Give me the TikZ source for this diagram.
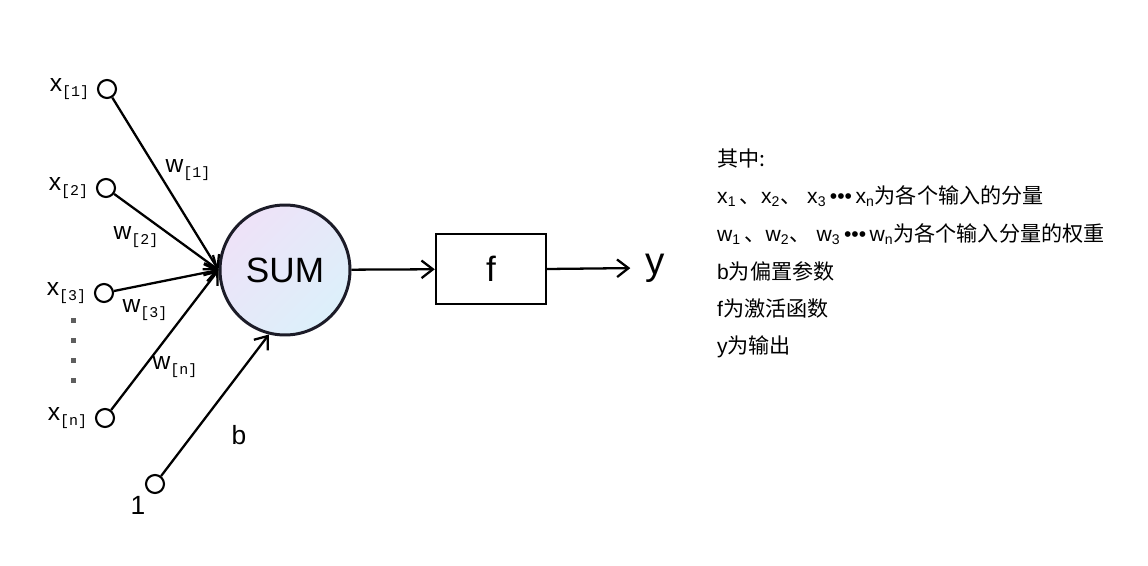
\documentclass[tikz,border=0pt]{standalone}
\usepackage{fontspec}
\setmainfont{Liberation Sans}
\newfontfamily\cjk{Noto Sans CJK SC}
\newfontfamily\submono{Liberation Mono}
\usetikzlibrary{arrows.meta,positioning}
\definecolor{NeuronInk}{HTML}{1C1C28}
\definecolor{NeuronLilac}{HTML}{EEE2F8}
\definecolor{NeuronSky}{HTML}{DCF0FA}
\definecolor{DotGrey}{HTML}{5E5E5E}
\newcommand{\idx}[2]{{\fontsize{14}{16}\selectfont #1}\raisebox{-3pt}{\fontsize{8.5}{9}\submono[#2]}}

\begin{document}
\begin{tikzpicture}[x=0.02cm, y=0.02cm, font=\fontsize{12}{14}\selectfont,
  port/.style={circle, draw, line width=1.2pt, minimum size=0.36cm, inner sep=0pt},
  wire/.style={line width=1.3pt, -{Straight Barb[length=6.5pt,width=10pt]}},
  big/.style={font=\fontsize{20}{24}\selectfont}]
  \useasboundingbox (0,0) rectangle (1148,565);
  % input ports
  \node[port] (x1) at (107,476) {};
  \node[port] (x2) at (106,377) {};
  \node[port] (x3) at (104,272) {};
  \node[port] (xn) at (105,147) {};
  \node[port] (one) at (155,81) {};
  \node[left=1pt of x1] (lx1) {\idx{x}{1}};
  \node[left=1pt of x2] (lx2) {\idx{x}{2}};
  \node[left=1pt of x3] (lx3) {\idx{x}{3}};
  \node[left=1pt of xn] (lxn) {\idx{x}{n}};
  \foreach \y in {245,225,205,185}
    {\fill[DotGrey] (73,\y) +(-2.5,-2.5) rectangle +(2.5,2.5);}
  % neuron
  \node[big, circle, draw=NeuronInk, line width=1.7pt, minimum size=2.6cm,
    top color=NeuronLilac, bottom color=NeuronSky, shading angle=45] (sum) at (285,295) {SUM};
  \node[big, draw, line width=1.4pt, minimum width=2.2cm, minimum height=1.4cm] (f) at (491,296) {f};
  \node[font=\fontsize{22}{26}\selectfont] (y) at (655,297) {y};
  % weighted inputs
  \foreach \i in {x1,x2,x3,xn}
    {\draw[wire] (\i) -- (sum.west);}
  \draw[wire] (one) -- (sum.256);
  \draw[wire] (sum) -- (f);
  \draw[wire, shorten >=5pt] (f.east) -- (y.west);
  \node (w1) at (188,395) {\idx{w}{1}};
  \node (w2) at (136,328) {\idx{w}{2}};
  \node (w3) at (145,255) {\idx{w}{3}};
  \node (wn) at (175,198) {\idx{w}{n}};
  \node[font=\fontsize{15}{18}\selectfont] (lb) at (239,130) {b};
  \node[font=\fontsize{15}{18}\selectfont] (lone) at (138,60) {1};
  % legend
  \node[anchor=west] (n1) at (711,407) {{\cjk 其中:}};
  \node[anchor=west] (n2) at (711,369)
    {x\textsubscript{1}\,{\cjk 、}x\textsubscript{2}{\cjk 、}\ x\textsubscript{3}\,•••\,x\textsubscript{n}{\cjk 为各个输入的分量}};
  \node[anchor=west] (n3) at (711,331)
    {w\textsubscript{1}\,{\cjk 、}w\textsubscript{2}{\cjk 、}\ w\textsubscript{3}\,•••\,w\textsubscript{n}{\cjk 为各个输入分量的权重}};
  \node[anchor=west] (n4) at (711,294) {b{\cjk 为偏置参数}};
  \node[anchor=west] (n5) at (711,256) {f{\cjk 为激活函数}};
  \node[anchor=west] (n6) at (711,218) {y{\cjk 为输出}};
\end{tikzpicture}
\end{document}
